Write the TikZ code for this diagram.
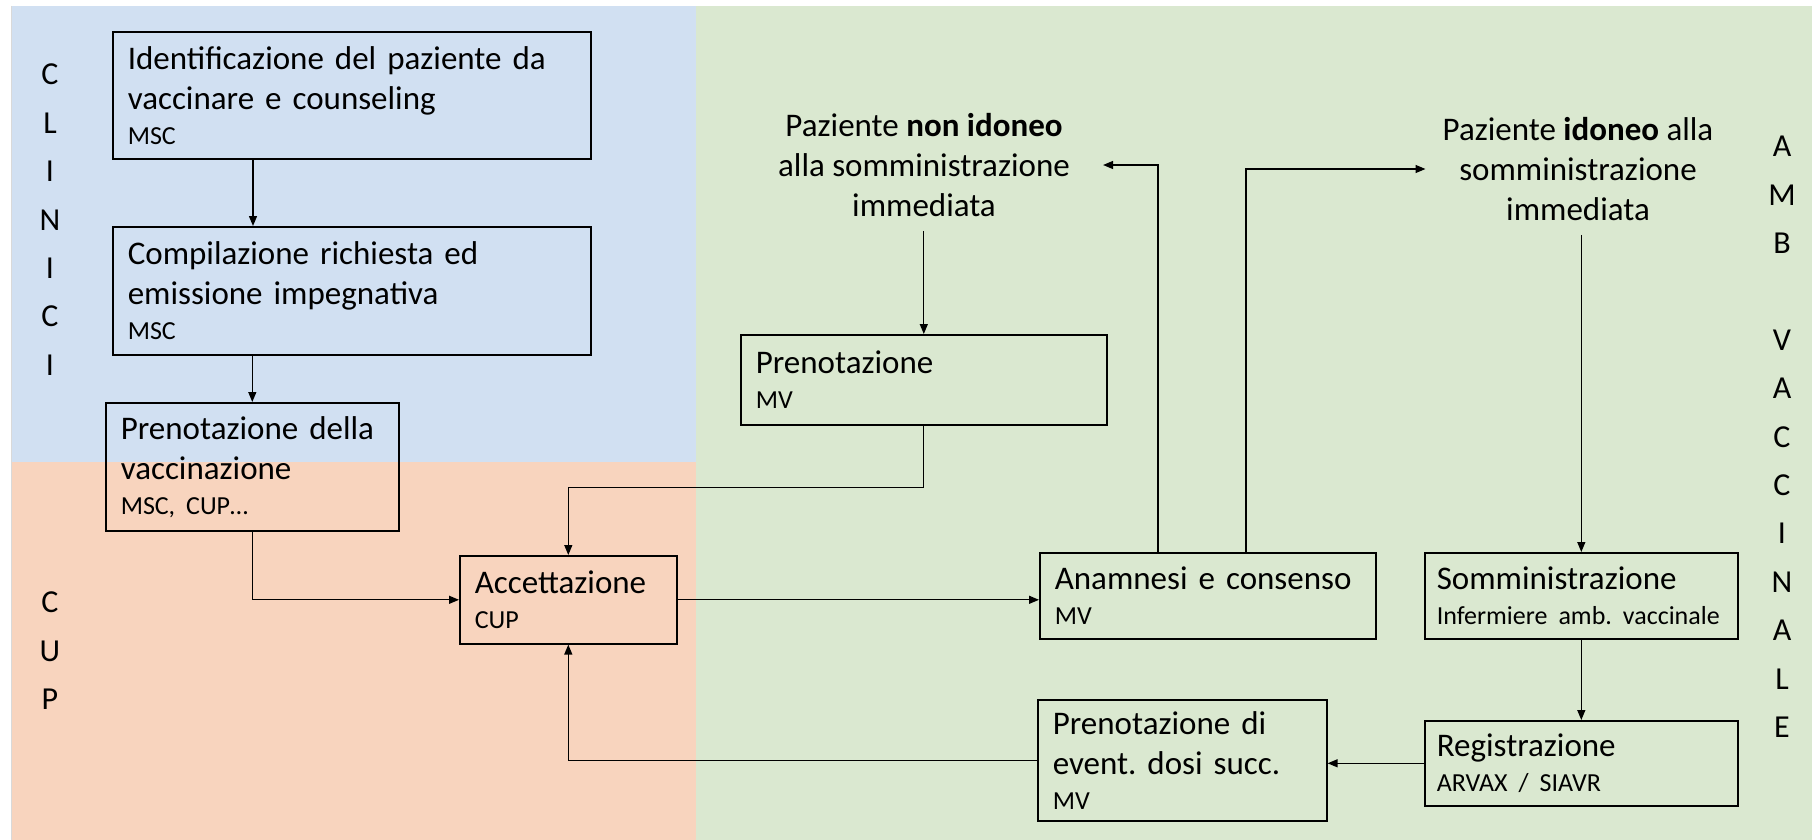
\documentclass[tikz,border=0pt]{standalone}
\usepackage{fontspec}
\setmainfont{Carlito}
\usetikzlibrary{arrows.meta}
\definecolor{lblue}{RGB}{209,224,242}
\definecolor{lorange}{RGB}{248,212,190}
\definecolor{lgreen}{RGB}{218,232,208}
\newcommand\mainf{\fontsize{33}{40}\selectfont\frenchspacing\hyphenpenalty=10000\exhyphenpenalty=10000}
\newcommand\smallf{\fontsize{26}{32}\selectfont}
\newcommand\lanef{\fontsize{32}{48.4}\selectfont}
\tikzset{
  box/.style={draw=black, line width=1.6pt, align=left, inner xsep=15pt, inner ysep=0pt,
    anchor=north west, font=\mainf},
  free/.style={align=center, font=\mainf, inner xsep=33pt, inner ysep=14pt},
  lane/.style={align=center, font=\lanef, inner sep=0pt, anchor=north},
  arr/.style={line width=1.3pt, -{Triangle[length=10pt,width=8pt]}}
}
\begin{document}
\begin{tikzpicture}[x=1pt,y=-1pt]
\useasboundingbox (0,0) rectangle (1812,840);
% lanes
\fill[lblue] (11,6) rectangle (696,462);
\fill[lorange] (11,462) rectangle (696,840);
\fill[lgreen] (696,6) rectangle (1812,840);
\draw[black!15, line width=1pt] (11,6) -- (11,840);

% lane labels
\node[lane] (lclin) at (50,64) {C\\L\\I\\N\\I\\C\\I};
\node[lane] (lcup) at (50,592) {C\\U\\P};
\node[lane] (lamb) at (1782,136) {A\\M\\B\\\mbox{}\\V\\A\\C\\C\\I\\N\\A\\L\\E};

% boxes
\node[box, text width=448pt, minimum height=127pt] (b1) at (112,31)
  {Identificazione del paziente da\\vaccinare e counseling\\[-5pt]{\smallf MSC}};
\node[box, text width=448pt, minimum height=128pt] (b2) at (112,226)
  {Compilazione richiesta ed\\emissione impegnativa\\[-5pt]{\smallf MSC}};
\node[box, text width=263pt, minimum height=128pt] (b3) at (105,402)
  {Prenotazione della\\vaccinazione\\[-5pt]{\smallf MSC, CUP\ldots}};
\node[box, text width=187pt, minimum height=88pt] (acc) at (459,555)
  {Accettazione\\[-5pt]{\smallf CUP}};
\node[box, text width=336pt, minimum height=90pt] (pmv) at (740,334)
  {Prenotazione\\[-5pt]{\smallf MV}};
\node[box, text width=306pt, minimum height=86pt] (anam) at (1039,552)
  {Anamnesi e consenso\\[-5pt]{\smallf MV}};
\node[box, text width=289pt, minimum height=86pt, inner xsep=12pt] (somm) at (1424,552)
  {Somministrazione\\[-5pt]{\smallf\mbox{Infermiere amb. vaccinale}}};
\node[box, text width=289pt, minimum height=85pt, inner xsep=12pt] (reg) at (1424,720)
  {Registrazione\\[-5pt]{\smallf ARVAX / SIAVR}};
\node[box, text width=259pt, minimum height=121pt] (dosi) at (1037,699)
  {Prenotazione di\\event. dosi succ.\\[-5pt]{\smallf MV}};

% free texts
\node[free] (nonid) at (924,165) {Paziente \textbf{non idoneo}\\alla somministrazione\\immediata};
\node[free, inner xsep=17pt] (idon) at (1578,169) {Paziente \textbf{idoneo} alla\\somministrazione\\immediata};

% connectors
\draw[arr] ([xshift=141pt]b1.south west) -- ([xshift=141pt]b2.north west);
\draw[arr] (b3.north |- b2.south) -- (b3.north);
\draw[arr] (b3.south) |- (acc.west);
\draw[arr] (pmv.south) -- ++(0,62) -| (acc.north);
\draw[arr] (acc.east) -- (acc.east -| anam.west);
\draw[arr] ([xshift=119pt]anam.north west) |- (nonid.east);
\draw[arr] ([xshift=207pt]anam.north west) |- (idon.west);
\draw[arr] (nonid.south -| pmv.north) -- (pmv.north);
\draw[arr] (idon.south -| somm.north) -- (somm.north);
\draw[arr] (somm.south) -- (reg.north);
\draw[arr] (reg.west) -- (reg.west -| dosi.east);
\draw[arr] (dosi.west) -| (acc.south);
\end{tikzpicture}
\end{document}
